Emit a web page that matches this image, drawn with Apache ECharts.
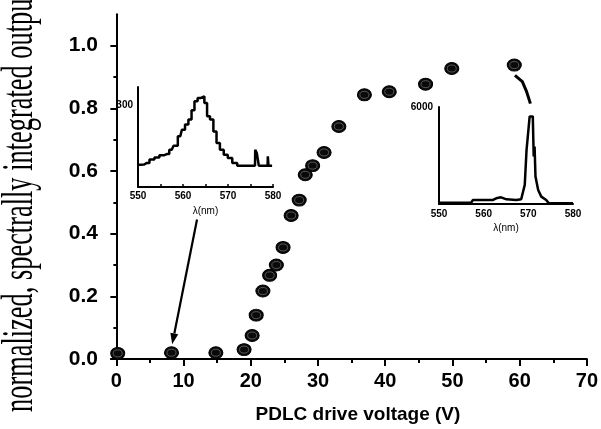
<!DOCTYPE html>
<html><head><meta charset="utf-8">
<script src="https://cdn.jsdelivr.net/npm/echarts@6/dist/echarts.min.js"></script>
<style>html,body{margin:0;padding:0;background:#fff}#c{width:601px;height:429px}</style>
</head><body><div id="c"></div>
<script>
// Main data: PDLC drive voltage (V) vs normalized integrated output
var voltage = [0.2, 8.2, 14.8, 19.0, 20.2, 20.8, 21.8, 22.8, 23.8, 24.8, 26.0, 27.2, 28.1, 29.2, 30.9, 33.1, 36.9, 40.6, 46.0, 49.9, 59.2];
var output  = [0.018, 0.02, 0.02, 0.03, 0.075, 0.14, 0.217, 0.267, 0.30, 0.356, 0.458, 0.507, 0.588, 0.617, 0.659, 0.742, 0.843, 0.853, 0.877, 0.927, 0.938];
var xTickLabels = [0, 10, 20, 30, 40, 50, 60, 70];
var xMinorTicks = [5, 15, 25, 35, 45, 55, 65];
var yTickLabels = [0, 0.2, 0.4, 0.6, 0.8, 1.0];
var yMinorTicks = [0.1, 0.3, 0.5, 0.7, 0.9];

// Inset 1 spectrum (low voltage)
var spec1Nm  = [550, 551.3, 552, 553.1, 554.2, 555.3, 556.4, 557.5, 558.3, 559.4, 560.1, 560.8, 561.6, 562.2, 562.9, 563.6, 564.4, 565.1, 565.6, 566.4, 567.1, 567.8, 568.6, 569.5, 570.4, 571.5, 572.6, 573.4, 576.0, 576.1, 576.7, 577.0, 578.8, 578.9, 579.1, 579.8];
var spec1Val = [81, 82, 88, 100, 108, 116, 120, 136, 151, 185, 209, 228, 246, 280, 313, 325, 331, 307, 258, 246, 203, 161, 136, 118, 106, 88, 78, 78, 78, 136, 124, 78, 78, 112, 78, 78];
var spec1Ticks = [550, 560, 570, 580];

// Inset 2 spectrum (high voltage)
var spec2Nm  = [550, 557.2, 557.6, 562.1, 562.8, 563.9, 565.1, 567.3, 568.4, 569.2, 569.6, 569.9, 570.3, 570.7, 571.0, 571.2, 571.4, 571.6, 572.2, 572.9, 574.0, 574.6, 580];
var spec2Val = [80, 80, 250, 250, 350, 414, 290, 250, 290, 1180, 3350, 3350, 5420, 5520, 5420, 2940, 3560, 1700, 870, 455, 250, 40, 40];
var spec2Ticks = [550, 560, 570, 580];

var pts = voltage.map(function (v, i) { return [v, output[i]]; });
var s1 = spec1Nm.map(function (v, i) { return [v, spec1Val[i]]; });
var s2 = spec2Nm.map(function (v, i) { return [v, spec2Val[i]]; });

var FONT = 'Liberation Sans, Arial, sans-serif';
var axisLine = {show: true, lineStyle: {color: '#000', width: 2}};

var chart = echarts.init(document.getElementById('c'), null, {renderer: 'canvas'});
var option = {
  animation: false,
  backgroundColor: '#fff',
  grid: [
    {left: 111, right: 13, top: 14.3, bottom: 66},
    {left: 138, width: 135, top: 87, height: 100},
    {left: 439, width: 134, top: 107, height: 97}
  ],
  xAxis: [
    {gridIndex: 0, type: 'value', min: -0.8, max: 70, axisLine: axisLine,
     axisTick: {show: true, customValues: xTickLabels, length: 7, lineStyle: {width: 2, color: '#000'}},
     axisLabel: {customValues: xTickLabels, color: '#000', fontFamily: FONT, fontWeight: 'bold', fontSize: 20, margin: 12},
     splitLine: {show: false},
     name: 'PDLC drive voltage (V)', nameLocation: 'middle', nameGap: 46,
     nameTextStyle: {color: '#000', fontFamily: FONT, fontWeight: 'bold', fontSize: 19, padding: [0, 0, 0, 18]}},
    {gridIndex: 0, type: 'value', min: -0.8, max: 70, position: 'bottom', axisLine: {show: false},
     axisTick: {show: true, customValues: xMinorTicks, length: 4, lineStyle: {width: 2, color: '#000'}},
     axisLabel: {show: false}, splitLine: {show: false}},
    {gridIndex: 1, type: 'value', min: 550, max: 580, axisLine: axisLine,
     axisTick: {show: true, inside: true, customValues: [550, 555, 560, 565, 570, 575, 580], length: 3, lineStyle: {width: 1.5, color: '#000'}},
     axisLabel: {customValues: spec1Ticks, color: '#000', fontFamily: FONT, fontWeight: 'bold', fontSize: 10, margin: 4},
     splitLine: {show: false},
     name: 'λ(nm)', nameLocation: 'middle', nameGap: 19, nameTextStyle: {color: '#000', fontFamily: FONT, fontSize: 10}},
    {gridIndex: 2, type: 'value', min: 550, max: 580, axisLine: axisLine,
     axisTick: {show: false},
     axisLabel: {customValues: spec2Ticks, color: '#000', fontFamily: FONT, fontWeight: 'bold', fontSize: 10, margin: 5},
     splitLine: {show: false},
     name: 'λ(nm)', nameLocation: 'middle', nameGap: 19, nameTextStyle: {color: '#000', fontFamily: FONT, fontSize: 10}}
  ],
  yAxis: [
    {gridIndex: 0, type: 'value', min: 0, max: 1.1, axisLine: axisLine,
     axisTick: {show: true, customValues: yTickLabels, length: 6, lineStyle: {width: 2, color: '#000'}},
     axisLabel: {customValues: yTickLabels, color: '#000', fontFamily: FONT, fontWeight: 'bold', fontSize: 21, margin: 13,
       formatter: function (v) { return v.toFixed(1); }},
     splitLine: {show: false}},
    {gridIndex: 0, type: 'value', min: 0, max: 1.1, position: 'left', axisLine: {show: false},
     axisTick: {show: true, customValues: yMinorTicks, length: 3, lineStyle: {width: 2, color: '#000'}},
     axisLabel: {show: false}, splitLine: {show: false}},
    {gridIndex: 1, type: 'value', min: 0, max: 365, axisLine: axisLine, axisTick: {show: false},
     axisLabel: {customValues: [300], color: '#000', fontFamily: FONT, fontWeight: 'bold', fontSize: 10, margin: 5},
     splitLine: {show: false}},
    {gridIndex: 2, type: 'value', min: 0, max: 6000, axisLine: axisLine, axisTick: {show: false},
     axisLabel: {customValues: [6000], color: '#000', fontFamily: FONT, fontWeight: 'bold', fontSize: 10, margin: 6,
       formatter: function (v) { return String(v); }},
     splitLine: {show: false}}
  ],
  series: [
    {type: 'scatter', xAxisIndex: 0, yAxisIndex: 0, data: pts, symbol: 'circle', symbolSize: [14, 12],
     itemStyle: {color: '#0a0a0a', borderColor: '#000', borderWidth: 1, opacity: 1}, z: 5},
    {type: 'scatter', xAxisIndex: 0, yAxisIndex: 0, data: pts, symbol: 'circle', symbolSize: [9, 7], silent: true,
     itemStyle: {color: 'rgba(0,0,0,0)', borderColor: '#6a6a6a', borderWidth: 0.8, opacity: 1}, z: 6},
    {type: 'line', xAxisIndex: 2, yAxisIndex: 2, data: s1, step: 'middle', showSymbol: false,
     lineStyle: {color: '#000', width: 2.5}},
    {type: 'line', xAxisIndex: 3, yAxisIndex: 3, data: s2, showSymbol: false,
     lineStyle: {color: '#000', width: 2.5}}
  ]
};
chart.setOption(option);

// Annotation arrows, positioned in the main plot's data coordinates
function P(x, y) { return chart.convertToPixel({xAxisIndex: 0, yAxisIndex: 0}, [x, y]); }
var a0 = P(12.0, 0.445), a1 = P(8.3, 0.047);
var dx = a1[0] - a0[0], dy = a1[1] - a0[1], L = Math.sqrt(dx * dx + dy * dy);
var ux = dx / L, uy = dy / L, hl = 11, hw = 4;
var base = [a1[0] - ux * hl, a1[1] - uy * hl];
var hook = [P(59.3, 0.905), P(60.4, 0.885), P(61.0, 0.855), P(61.6, 0.815)];
chart.setOption({
  graphic: [
    {type: 'line', shape: {x1: a0[0], y1: a0[1], x2: base[0], y2: base[1]}, style: {stroke: '#000', lineWidth: 2.2}, z: 10},
    {type: 'polygon', shape: {points: [a1, [base[0] - uy * hw, base[1] + ux * hw], [base[0] + uy * hw, base[1] - ux * hw]]},
     style: {fill: '#000'}, z: 10},
    {type: 'polyline', shape: {points: hook}, style: {stroke: '#000', lineWidth: 3, fill: null}, z: 10},
    {type: 'text', x: 20, y: 412, rotation: Math.PI / 2, scaleX: 0.6, scaleY: 1,
     style: {text: 'normalized, spectrally integrated output', fill: '#000', font: '44px "Liberation Serif", serif',
       textAlign: 'left', textVerticalAlign: 'middle'}, z: 10}
  ]
});
</script></body></html>
